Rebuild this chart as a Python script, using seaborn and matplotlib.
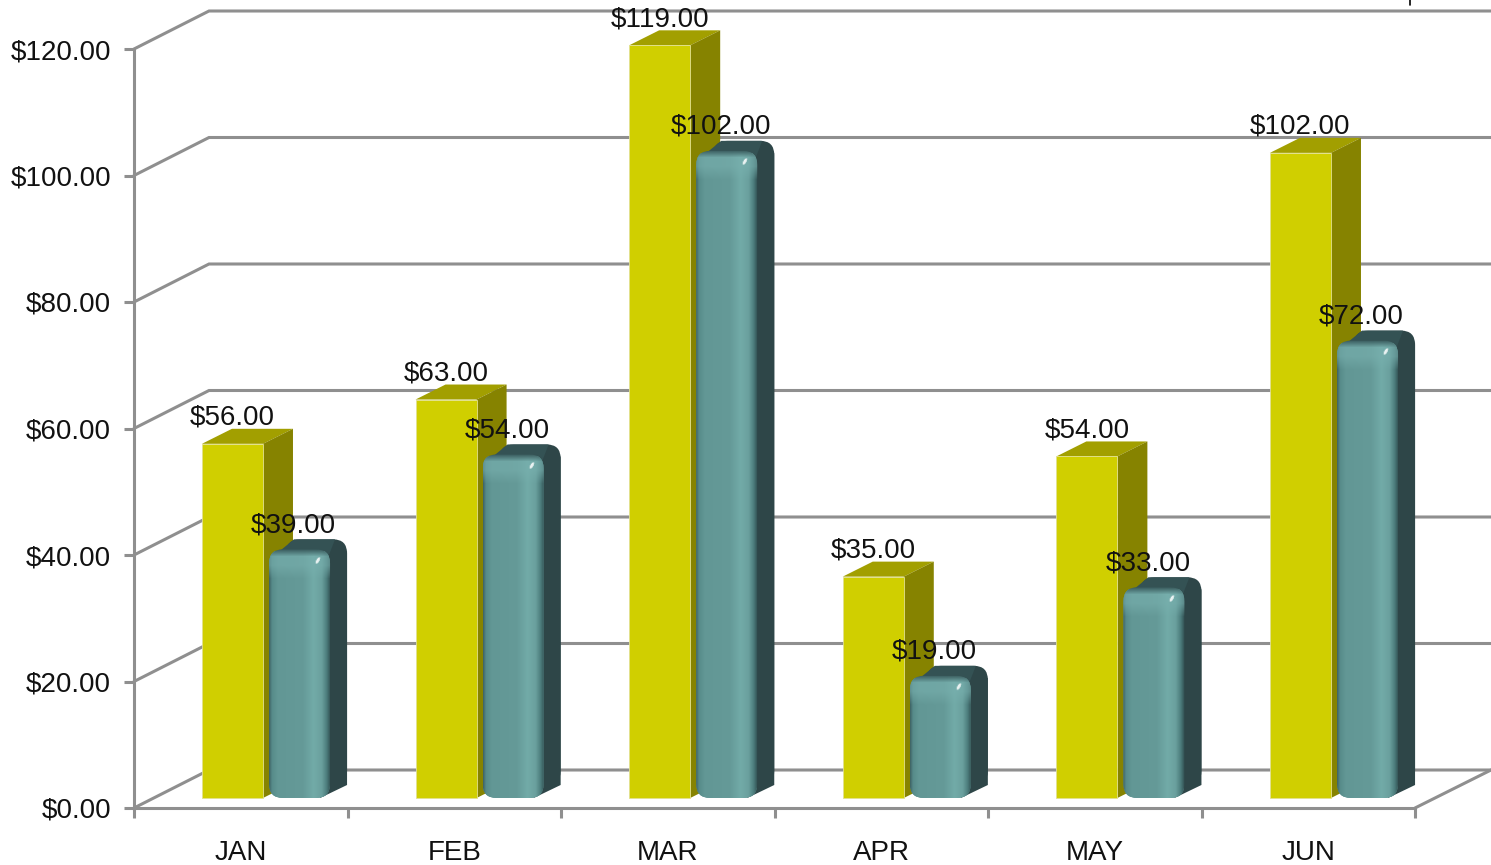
import numpy as np
import pandas as pd
import matplotlib
matplotlib.use("Agg")
import matplotlib.pyplot as plt
from matplotlib.colors import to_rgb
from matplotlib.patches import FancyBboxPatch, Polygon
from matplotlib.transforms import ScaledTranslation
import seaborn as sns

months = ["JAN", "FEB", "MAR", "APR", "MAY", "JUN"]
series_a = [56, 63, 119, 35, 54, 102]
series_b = [39, 54, 102, 19, 33, 72]
y_ticks = [0, 20, 40, 60, 80, 100, 120]

sns.set_theme(style="white")
plt.rcParams["font.family"] = ["Liberation Sans", "DejaVu Sans"]

W, H = 1491, 865
GREY = "#8f8f8f"
FS = 20
fig = plt.figure(figsize=(W / 100, H / 100), dpi=100, facecolor="white")

# ---------- frame axes: real ticks, walls and floor
fr = fig.add_axes([134 / W, 1 - 808 / H, (1415 - 134) / W, (808 - 49) / H], zorder=1)
fr.set_xlim(0, 6)
fr.set_ylim(0, 120)
fr.patch.set_visible(False)
for s in ("top", "right"):
    fr.spines[s].set_visible(False)
for s in ("left", "bottom"):
    fr.spines[s].set_color(GREY)
    fr.spines[s].set_linewidth(2.2)
fr.set_yticks(y_ticks)
fr.set_yticklabels([f"${v:.2f}" for v in y_ticks], fontsize=FS, color="#111111")
shift = ScaledTranslation(0, -1 / 100, fig.dpi_scale_trans)
for t in fr.get_yticklabels():
    t.set_transform(t.get_transform() + shift)
fr.set_xticks(range(7))
fr.set_xticklabels([])
fr.set_xticks([i + 0.5 for i in range(6)], months, minor=True, fontsize=FS, color="#111111")
fr.tick_params(axis="y", length=7, width=2.2, color=GREY, pad=9.5, left=True)
fr.tick_params(axis="x", which="major", length=7, width=2.2, color=GREY, bottom=True)
fr.tick_params(axis="x", which="minor", length=0, pad=23)
unit_x = 1281 / 6
unit_y = 759 / 120
wall_dx, wall_dy = 75 / unit_x, 38 / unit_y
x_end = (W - 134) / unit_x
for v in y_ticks:
    fr.plot([0, wall_dx, x_end], [v, v + wall_dy, v + wall_dy], color=GREY, lw=2.2,
            clip_on=False, solid_joinstyle="miter")
fr.plot([6, x_end], [0, wall_dy], color=GREY, lw=2.2, clip_on=False)
fr.plot([(1410 - 134) / unit_x] * 2, [127, 128.5], color="black", lw=1.2, clip_on=False)

# ---------- bars axes: shares the value scale, baseline sits on the raised floor
ax = fig.add_axes([0, 0, 1, 1], zorder=2)
df = pd.DataFrame({
    "month": months * 2,
    "value": series_a + series_b,
    "series": ["A"] * 6 + ["B"] * 6,
})
sns.barplot(data=df, x="month", y="value", hue="series", hue_order=["A", "B"],
            palette=["#d0cf00", "#629795"], width=0.628, gap=0.09, legend=False,
            saturation=1, ax=ax, linewidth=0)
PX = 1 / 213.6
PY = 1 / 6.325
xlim = (-266 * PX, (W - 266) * PX)
ylim = ((798 - H) * PY, 798 * PY)
ax.patch.set_visible(False)
ax.axis("off")

stops_u = [0, .05, .14, .55, .72, .85, .93, 1]
stops_c = ["#3c6062", "#578b8a", "#629795", "#659a98", "#72aba8", "#6aa09e", "#4d7d7d", "#2e4a4c"]
stops_c = np.array([to_rgb(c) for c in stops_c])


def gradient(wpx, hpx):
    u = (np.arange(wpx) + .5) / wpx
    row = np.stack([np.interp(u, stops_u, stops_c[:, k]) for k in range(3)], axis=1)
    img = np.repeat(row[None, :, :], hpx, axis=0)
    yy = np.arange(hpx)[:, None, None]
    light = np.array(to_rgb("#78b0ae"))
    dark = np.array(to_rgb("#3a5c5e"))
    a = np.clip(1 - (yy - 7) / 22, 0, .6)
    img = img * (1 - a) + light * a
    d = np.clip(1 - yy / 7, 0, 1)
    img = img * (1 - d) + dark * d
    # small specular spot
    X, Y = np.meshgrid(np.arange(wpx), np.arange(hpx))
    dx, dy = X - 0.78 * wpx, Y - 11
    p = (dx * .87 + dy * .5) / 2.0
    q = (-dx * .5 + dy * .87) / 4.8
    s = np.clip(1.3 - (p ** 2 + q ** 2) * 1.6, 0, .85)[:, :, None]
    return img * (1 - s) + s


def yellow_faces(b, z):
    x0, x1, top = b.get_x(), b.get_x() + b.get_width(), b.get_height()
    dx, dy = 30 * PX, 15 * PY
    ax.add_patch(Polygon([(x0, top), (x0 + dx, top + dy), (x1 + dx, top + dy), (x1, top)],
                         fc="#a29f00", ec="none", zorder=z))
    ax.add_patch(Polygon([(x1, top), (x1 + dx, top + dy), (x1 + dx, dy), (x1, 0)],
                         fc="#868300", ec="none", zorder=z))
    b.set_zorder(z + .1)
    b.set_edgecolor("#e2e190")
    b.set_linewidth(0.6)


def teal_faces(b, z):
    x0, x1, top = b.get_x(), b.get_x() + b.get_width(), b.get_height()
    dx, dy = 17 * PX, 10 * PY
    r = 14 * PX
    raised = top + 2 * PY
    asp = PY / PX
    style = f"round,pad=0,rounding_size={r}"
    back = FancyBboxPatch((x0 + dx, 13 * PY), x1 - x0, raised - 3 * PY, boxstyle=style,
                          mutation_aspect=asp, fc="#2e4648", ec="none", zorder=z)
    ax.add_patch(back)
    ax.add_patch(Polygon([(x1 - 10 * PX, 0), (x1 + dx, 13 * PY), (x1 + dx, top), (x1, top), (x1 - 10 * PX, top)],
                         fc="#2e4648", ec="none", zorder=z))
    ax.add_patch(Polygon([(x0 + 3 * PX, raised - 8 * PY), (x0 + dx + 8 * PX, raised + dy),
                          (x1 + dx - 12 * PX, raised + dy), (x1 - 2 * PX, raised - 8 * PY)],
                         fc="#345254", ec="none", zorder=z + .01))
    front = FancyBboxPatch((x0, 0), x1 - x0, raised, boxstyle=style, mutation_aspect=asp,
                           fc="none", ec="none", zorder=z + .1)
    ax.add_patch(front)
    b.set_zorder(z + .1)
    b.set_clip_path(front)
    im = ax.imshow(gradient(int(round((x1 - x0) / PX)), int(round(raised / PY))),
                   extent=(x0, x1, 0, raised), origin="upper", aspect="auto", zorder=z + .2,
                   interpolation="bilinear")
    im.set_clip_path(front)


bars_a, bars_b = ax.containers[0], ax.containers[1]
for i in range(6):
    z = 3 + i * 2
    yellow_faces(bars_a[i], z)
    teal_faces(bars_b[i], z + 1)
    ax.annotate(f"${series_a[i]:.2f}", (bars_a[i].get_x() + bars_a[i].get_width() / 2, series_a[i]),
                xytext=(0, 26 * .72), textcoords="offset points", ha="center", va="center",
                fontsize=FS, color="#111111", zorder=50)
    ax.annotate(f"${series_b[i]:.2f}", (bars_b[i].get_x() + bars_b[i].get_width() / 2, series_b[i]),
                xytext=(-6 * .72, 26 * .72), textcoords="offset points", ha="center", va="center",
                fontsize=FS, color="#111111", zorder=50)

ax.set_xlim(*xlim)
ax.set_ylim(*ylim)

fig.savefig("out.png", dpi=100, facecolor="white")
